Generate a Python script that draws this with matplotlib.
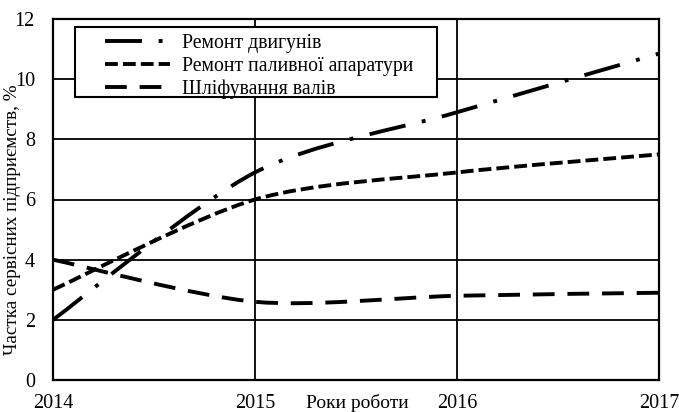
import matplotlib
matplotlib.use("Agg")
import matplotlib.pyplot as plt
from matplotlib.path import Path
from matplotlib.patches import PathPatch, Rectangle
from matplotlib.lines import Line2D
import numpy as np

years = [2014, 2015, 2016, 2017]
engines = [2.0, 6.9, 8.9, 10.85]
fuel = [3.0, 6.0, 6.9, 7.5]
grinding = [4.0, 2.6, 2.8, 2.9]
labels = ["Ремонт двигунів", "Ремонт паливної апаратури", "Шліфування валів"]
ylabel = "Частка сервісних підприємств, %"
xlabel = "Роки роботи"

plt.rcParams['font.family'] = ['Liberation Serif', 'DejaVu Serif']

W, H = 679, 412
fig = plt.figure(figsize=(W/100, H/100), dpi=100)
ax = fig.add_axes([53/W, 1 - 380/H, (659-53)/W, (380-19)/H])

def smooth_path(xs, ys, k=7.0):
    # Bezier (Catmull-Rom style) smoothing, like spreadsheet "smoothed line"
    pts = np.column_stack([xs, ys]).astype(float)
    n = len(pts)
    verts = [pts[0]]
    codes = [Path.MOVETO]
    for i in range(n - 1):
        p0 = pts[i - 1] if i > 0 else pts[i]
        p1 = pts[i]
        p2 = pts[i + 1]
        p3 = pts[i + 2] if i + 2 < n else pts[i + 1]
        c1 = p1 + (p2 - p0) / k
        c2 = p2 - (p3 - p1) / k
        verts += [c1, c2, p2]
        codes += [Path.CURVE4] * 3
    return Path(verts, codes)

lw = 2.8
styles = [
    (0, (9.5, 4.3, 1.0, 4.3)),
    (0, (3.3, 1.3)),
    (0, (5.6, 3.3)),
]
series = [engines, fuel, grinding]
for vals, ls in zip(series, styles):
    patch = PathPatch(smooth_path(years, vals), facecolor='none', edgecolor='black',
                      linewidth=lw, linestyle=ls, capstyle='butt', zorder=3)
    ax.add_patch(patch)

ax.set_xlim(2014, 2017)
ax.set_ylim(0, 12)
ax.set_xticks(years)
ax.set_yticks(range(0, 13, 2))
ax.tick_params(length=0, labelsize=14.5)
ax.tick_params(axis='x', pad=10)
ax.tick_params(axis='y', pad=13)
ax.grid(True, color='black', linewidth=1.3, zorder=1)
for s in ax.spines.values():
    s.set_linewidth(1.6)
    s.set_zorder(4)

fig.text(13/W, 1 - 220/H, ylabel, rotation=90, ha='center', va='center', fontsize=13.8)
ax.text((357-53)/606, -0.04, xlabel, transform=ax.transAxes, ha='center', va='top', fontsize=14)

# legend frame
x0 = (75-53)/606
y1 = (380-27)/361
y0 = (380-97)/361
x1 = (437-53)/606
ax.add_patch(Rectangle((x0, y0), x1-x0, y1-y0, transform=ax.transAxes,
                       facecolor='white', edgecolor='black', linewidth=1.5, zorder=5))
handles = [Line2D([], [], color='black', linewidth=lw, linestyle=ls, dash_capstyle='butt') for ls in styles]
leg = ax.legend(handles, labels, loc='upper left', bbox_to_anchor=((99-53)/606, y1 - 0.002),
                frameon=False, fontsize=14.2, handlelength=3.3, handletextpad=0.6,
                labelspacing=0.2, borderpad=0.3, borderaxespad=0)
leg.set_zorder(6)

fig.savefig("out.png", dpi=100)
